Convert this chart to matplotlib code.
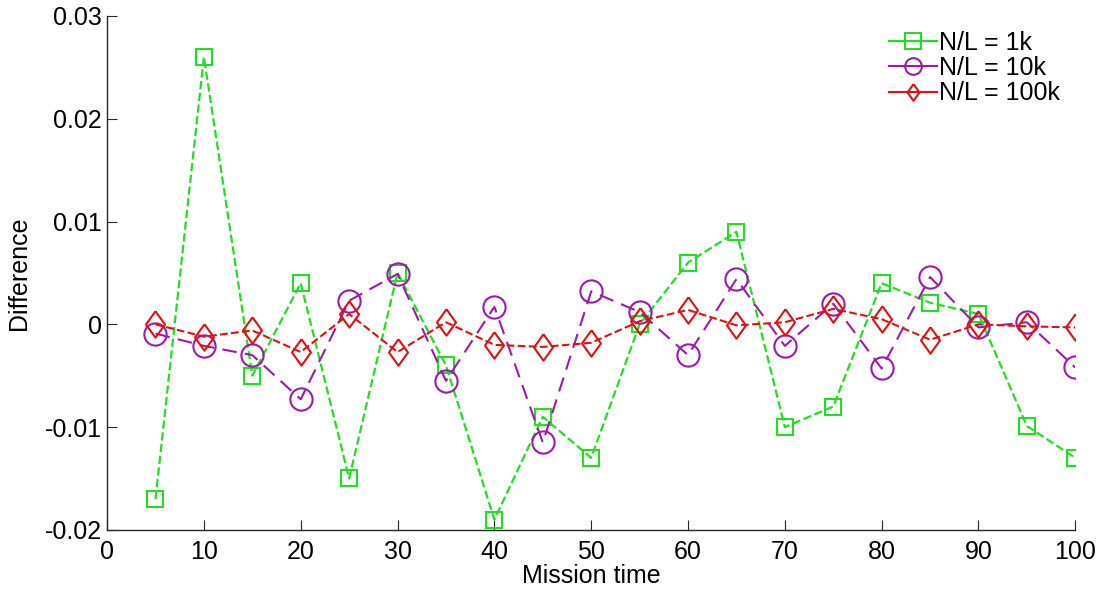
import numpy as np
import matplotlib
matplotlib.use("Agg")
import matplotlib.pyplot as plt

mission_time = [5, 10, 15, 20, 25, 30, 35, 40, 45, 50,
                55, 60, 65, 70, 75, 80, 85, 90, 95, 100]

diff_1k = [-0.017, 0.026, -0.005, 0.004, -0.015, 0.005, -0.004, -0.019, -0.009, -0.013,
           0.0, 0.006, 0.009, -0.010, -0.008, 0.004, 0.0021, 0.001, -0.0099, -0.013]
diff_10k = [-0.0009, -0.0021, -0.003, -0.0073, 0.0023, 0.0049, -0.0055, 0.0017, -0.0115, 0.0032,
            0.0012, -0.003, 0.0044, -0.0021, 0.002, -0.0043, 0.0046, -0.0003, 0.0002, -0.0042]
diff_100k = [0.0, -0.0012, -0.0006, -0.0027, 0.001, -0.0027, 0.0002, -0.002, -0.0022, -0.0018,
             0.0003, 0.0014, -0.0001, 0.0002, 0.0015, 0.0005, -0.0015, 0.0, -0.0002, -0.0003]

labels = ["N/L = 1k", "N/L = 10k", "N/L = 100k"]

plt.rcParams["font.family"] = ["Liberation Sans", "DejaVu Sans"]

fig = plt.figure(figsize=(11.04, 5.92), dpi=100)
ax = fig.add_axes([0.097, 0.105, 0.877, 0.868])

# matlab-ish tall diamond
diamond = [(0, 1), (0.72, 0), (0, -1), (-0.72, 0), (0, 1)]

ax.plot(mission_time, diff_1k, linestyle="--", color="#22dd22", lw=1.6,
        marker="s", markersize=12, markerfacecolor="none", markeredgewidth=1.5,
        label=labels[0])
ax.plot(mission_time, diff_10k, linestyle=(0, (7, 4)), color="#9a1aab", lw=1.5,
        marker="o", markersize=16, markerfacecolor="none", markeredgewidth=1.5,
        label=labels[1])
ax.plot(mission_time, diff_100k, linestyle="--", color="#dd1111", lw=1.5,
        marker=diamond, markersize=19, markerfacecolor="none", markeredgewidth=1.5,
        label=labels[2])

ax.set_xlim(0, 100)
ax.set_ylim(-0.02, 0.03)
ax.set_xticks(np.arange(0, 101, 10))
ax.set_yticks([-0.02, -0.01, 0, 0.01, 0.02, 0.03])
ax.set_yticklabels(["-0.02", "-0.01", "0", "0.01", "0.02", "0.03"])

for side in ["top", "right"]:
    ax.spines[side].set_visible(False)
for side in ["left", "bottom"]:
    ax.spines[side].set_color("#262626")
    ax.spines[side].set_linewidth(1.0)

ax.tick_params(direction="in", length=7, width=0.8, labelsize=18, colors="#262626",
               labelcolor="black")
ax.tick_params(axis="x", pad=7)
ax.tick_params(axis="y", pad=4)

ax.set_xlabel("Mission time", fontsize=18, labelpad=0)
ax.set_ylabel("Difference", fontsize=18, labelpad=10)

leg = ax.legend(loc="upper right", fontsize=18, frameon=False, handlelength=1.9,
                handletextpad=0.1, labelspacing=0.05, borderaxespad=0.2,
                bbox_to_anchor=(1.0, 1.0))
for h in leg.legend_handles:
    h.set_linestyle("-")
    h.set_markersize(12)

fig.savefig("out.png", dpi=100)
